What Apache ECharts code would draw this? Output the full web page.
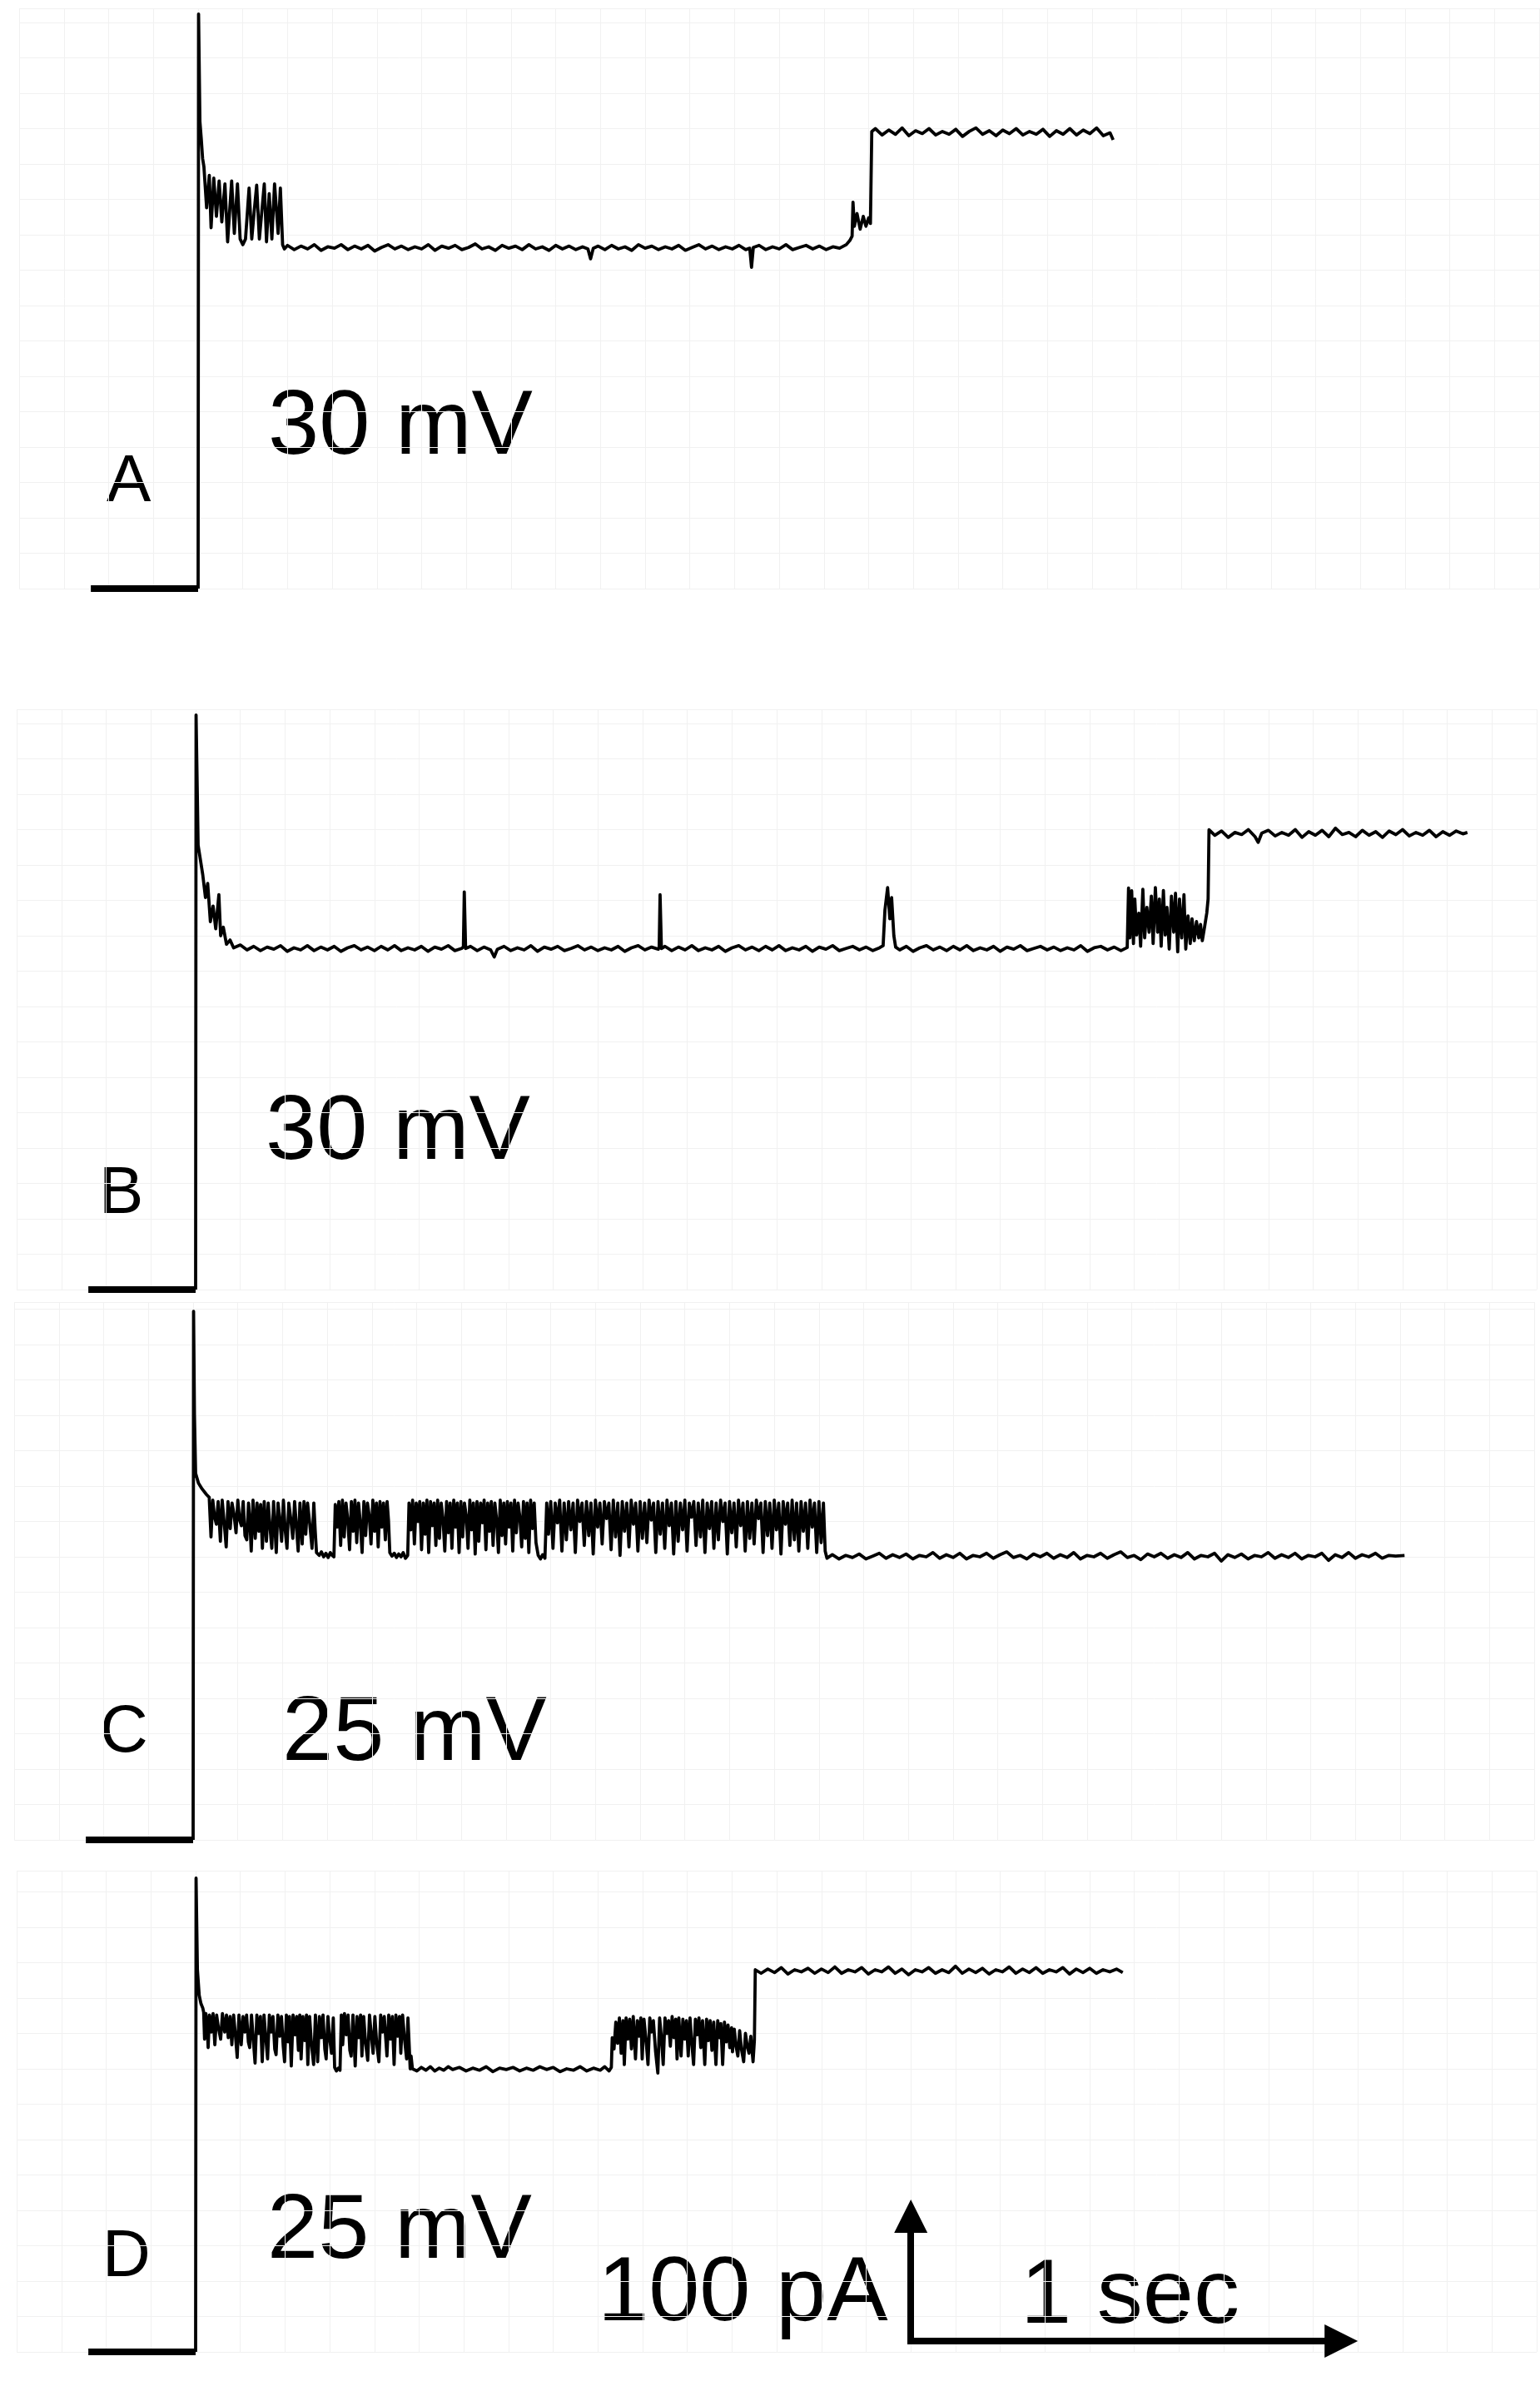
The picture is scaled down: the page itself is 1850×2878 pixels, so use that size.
<!DOCTYPE html>
<html>
<head>
<meta charset="utf-8">
<script src="https://cdn.jsdelivr.net/npm/echarts/dist/echarts.min.js"></script>
<style>
html,body{margin:0;padding:0;background:#ffffff;}
#chart{width:1850px;height:2878px;}
</style>
</head>
<body>
<div id="chart"></div>
<script>
// ---------------- DATA (time in s, current in pA) ----------------
const panelLabels = ['A', 'B', 'C', 'D'];
const voltageLabels = ['30 mV', '30 mV', '25 mV', '25 mV'];
const preStep = [[-0.24, 0], [0, 0]];
const scaleBarOrigin = [1.6, 7.6];
const scaleBarLength = [1, 100]; // 1 sec, 100 pA
const scaleBarLabels = ['100 pA', '1 sec'];

const traceA = [
[0,0],[0.001,406],[0.004,330],[0.007,318],[0.010,304],
[0.013,298],[0.019,269],[0.025,292],[0.029,255],[0.035,290],[0.041,263],[0.047,288],[0.053,259],[0.060,286],[0.066,245],
[0.075,288],[0.081,251],[0.088,286],[0.094,247],[0.100,243],[0.106,247],[0.114,283],[0.120,247],[0.125,265],[0.131,285],
[0.137,247],[0.148,286],[0.153,245],[0.159,279],[0.165,247],[0.171,286],[0.179,251],[0.184,283],[0.189,243],[0.193,240],
[0.200,242.5],[0.215,239.5],[0.230,242],[0.245,240],[0.260,243],[0.275,239],[0.290,241.5],[0.305,240.5],[0.320,243],[0.335,239.5],
[0.350,242],[0.365,240],[0.380,242.5],[0.395,238.5],[0.410,241],[0.425,243],[0.440,240],[0.455,242],[0.470,239.5],[0.485,241.5],
[0.500,240],[0.515,243],[0.530,239],[0.545,242],[0.560,240.5],[0.575,242.5],[0.590,239.5],[0.605,241],[0.620,243.5],[0.635,240],
[0.650,241.5],[0.665,239],[0.680,242.5],[0.695,240.5],[0.710,242],[0.725,239.5],[0.740,243],[0.755,240],[0.770,241.5],[0.785,239],
[0.800,242.5],[0.815,240],[0.830,242],[0.845,239.5],[0.860,241.5],[0.872,240],[0.878,233],[0.884,240.5],[0.895,242],[0.910,239.5],
[0.925,242.5],[0.940,240],[0.955,241.5],[0.970,239],[0.985,243],[1.000,240.5],[1.015,242],[1.030,239.5],[1.045,241.5],[1.060,240],
[1.075,242.5],[1.090,239],[1.105,241],[1.120,243],[1.135,240],[1.150,242],[1.165,239.5],[1.180,241.5],[1.195,240],[1.210,242.5],
[1.225,239.5],[1.234,240.5],[1.238,227],[1.242,241],[1.255,242.5],[1.270,239.5],[1.285,241.5],[1.300,240],[1.315,243],[1.330,239.5],
[1.345,241],[1.360,242.5],[1.375,240],[1.390,242],[1.405,239.5],[1.420,241.5],[1.435,240.5],[1.450,243],[1.458,246],[1.463,249],
[1.465,273],[1.468,256],[1.474,265],[1.481,254],[1.488,263],[1.494,256],[1.500,262],[1.504,258],[1.507,323],
[1.515,325],[1.530,320.5],[1.545,324],[1.560,321],[1.575,325.5],[1.590,320],[1.605,323.5],[1.620,321.5],[1.635,325],[1.650,320.5],
[1.665,323],[1.680,321],[1.695,324.5],[1.710,319.5],[1.725,323],[1.740,325.5],[1.755,321],[1.770,323.5],[1.785,320],[1.800,324],
[1.815,321.5],[1.830,325],[1.845,320.5],[1.860,323],[1.875,321],[1.890,324.5],[1.905,319.5],[1.920,323.5],[1.935,321],[1.950,325],
[1.965,320.5],[1.980,324],[1.995,321.5],[2.010,325.5],[2.025,320],[2.040,322],[2.047,317]
];

const traceB = [
[0,0],[0.001,406],[0.0056,314],[0.016,293],[0.022,277],[0.027,287],[0.033,260],[0.039,271],[0.045,255],[0.052,279],
[0.056,250],[0.062,256],[0.069,244],[0.077,247],[0.085,241.5],
[0.100,243.5],[0.115,240],[0.130,242.5],[0.145,239.5],[0.160,242],[0.175,240.5],[0.190,243],[0.205,239],[0.220,241.5],[0.235,240],
[0.250,243],[0.265,239.5],[0.280,242],[0.295,240],[0.310,242.5],[0.325,239],[0.340,241.5],[0.355,243],[0.370,240],[0.385,242],
[0.400,239.5],[0.415,242.5],[0.430,240],[0.445,243],[0.460,239.5],[0.475,241.5],[0.490,240],[0.505,242.5],[0.520,239],[0.535,242],
[0.550,240.5],[0.565,243],[0.580,239.5],[0.595,241],[0.599,242],[0.601,281],[0.604,241],[0.615,242.5],[0.630,239.5],[0.645,242],
[0.660,240],[0.668,235],[0.675,240.5],[0.690,242.5],[0.705,239.5],[0.720,241.5],[0.735,240],[0.750,243],[0.765,239],[0.780,242],
[0.795,240.5],[0.810,242.5],[0.825,239.5],[0.840,241],[0.855,243],[0.870,240],[0.885,242],[0.900,239.5],[0.915,241.5],[0.930,240],
[0.945,242.5],[0.960,239],[0.975,241.5],[0.990,243],[1.005,240],[1.020,242],[1.035,240.5],[1.037,242],[1.039,279],[1.042,241],
[1.050,242.5],[1.065,239.5],[1.080,242],[1.095,240],[1.110,243],[1.125,239.5],[1.140,241.5],[1.155,240],[1.170,242.5],[1.185,239],
[1.200,241.5],[1.215,243],[1.230,240],[1.245,242],[1.260,239.5],[1.275,242.5],[1.290,240],[1.305,243],[1.320,239.5],[1.335,241.5],
[1.350,240],[1.365,242.5],[1.380,239],[1.395,242],[1.410,240.5],[1.425,243],[1.440,239.5],[1.455,241],[1.470,242.5],[1.485,240],
[1.500,242],[1.515,239.5],[1.530,241.5],[1.538,243],[1.542,268],[1.548,284],[1.553,262],[1.557,277],[1.562,250],[1.566,242],
[1.575,240],[1.590,242.5],[1.605,239],[1.620,241.5],[1.635,243],[1.650,240],[1.665,242],[1.680,239.5],[1.695,242.5],[1.710,240],
[1.725,243],[1.740,239.5],[1.755,241.5],[1.770,240],[1.785,242.5],[1.800,239],[1.815,242],[1.830,240.5],[1.845,243],[1.860,239.5],
[1.875,241],[1.890,242.5],[1.905,240],[1.920,242],[1.935,239.5],[1.950,241.5],[1.965,240],[1.980,243],[1.995,239],[2.010,241.5],
[2.025,242.5],[2.040,240],[2.055,242],[2.070,239.5],[2.084,241.7],
[2.087,283.7],[2.090,248.5],[2.094,281.8],[2.098,244.5],[2.101,276],[2.105,250.5],[2.110,266],[2.114,242.6],[2.119,282.8],[2.123,248.5],
[2.128,270],[2.133,252.5],[2.138,278],[2.142,244.5],[2.147,284],[2.152,252.5],[2.156,276],[2.160,242.6],[2.165,282],[2.169,250.5],
[2.173,270],[2.178,240.6],[2.183,278],[2.188,252.5],[2.192,280],[2.197,238.6],[2.201,276],[2.206,248.5],[2.211,279],[2.215,240.6],
[2.220,264],[2.225,244.5],[2.229,262],[2.234,246.5],[2.239,260],[2.244,248.5],[2.248,258],[2.252,246.5],[2.257,256],[2.262,266],
[2.265,276],[2.267,324.9],
[2.280,321],[2.295,324],[2.310,319.5],[2.325,323],[2.340,321.5],[2.355,325],[2.370,320],[2.377,316],[2.385,322.5],[2.400,324.5],
[2.415,320.5],[2.430,323],[2.445,321],[2.460,325],[2.475,319.5],[2.490,323.5],[2.505,321],[2.520,324.5],[2.535,320],[2.550,326],
[2.565,321.5],[2.580,323],[2.595,320],[2.610,324.5],[2.625,321],[2.640,323.5],[2.655,319.5],[2.670,324],[2.685,321.5],[2.700,325],
[2.715,320.5],[2.730,323],[2.745,321],[2.760,324.5],[2.775,320],[2.790,323.5],[2.805,321],[2.820,324],[2.835,322],[2.845,323]
];

const traceC = [
[0,0],[0.001,373.5],[0.003,300],[0.0056,259],[0.012,252],[0.020,248],[0.030,244],[0.036,242],
[0.040,214],[0.044,240],[0.048,228],[0.052,223],[0.056,239],[0.061,211],[0.065,240],[0.069,226],[0.074,207],[0.078,239],
[0.083,220],[0.087,238],[0.091,231],[0.096,217],[0.100,240],[0.104,226],[0.108,222],[0.112,239],[0.116,215],[0.120,212],
[0.124,238],[0.127,225],[0.130,204],[0.134,240],[0.139,213],[0.143,238],[0.147,218],[0.151,237],[0.155,206],[0.159,239],
[0.164,211],[0.168,238],[0.172,221],[0.176,206],[0.180,239],[0.186,203],[0.190,238],[0.194,226],[0.198,211],[0.202,240],
[0.206,219],[0.210,206],[0.214,238],[0.218,228],[0.223,213],[0.227,239],[0.231,222],[0.235,204],[0.239,238],[0.244,209],
[0.248,239],[0.252,216],[0.256,238],[0.261,223],[0.266,206],[0.270,238],[0.273,219],
[0.276,203],[0.282,201],[0.287,203.5],[0.292,200],[0.297,202.5],[0.302,199.5],[0.307,203],[0.311,201],[0.315,200],
[0.318,237],[0.322,221],[0.326,239],[0.330,208],[0.334,240],[0.338,214],[0.342,238],[0.346,226],[0.350,205],[0.354,239],
[0.358,218],[0.362,240],[0.366,210],[0.370,238],[0.374,224],[0.378,203],[0.382,239],[0.386,215],[0.390,238],[0.394,229],
[0.398,209],[0.402,240],[0.406,218],[0.410,238],[0.414,207],[0.418,239],[0.422,221],[0.426,238],[0.430,212],[0.434,239],
[0.437,226],
[0.440,203],[0.445,200.5],[0.450,202.5],[0.455,199.5],[0.460,202],[0.465,200],[0.470,203],[0.475,199],[0.480,201],
[0.483,238],[0.487,219],[0.491,240],[0.495,209],[0.499,238],[0.503,225],[0.507,239],[0.511,205],[0.515,238],[0.519,216],
[0.523,240],[0.527,203],[0.531,239],[0.535,222],[0.539,238],[0.543,208],[0.547,240],[0.551,213],[0.555,238],[0.559,227],
[0.563,204],[0.567,239],[0.571,217],[0.575,238],[0.579,206],[0.583,240],[0.587,221],[0.591,238],[0.595,203],[0.599,239],
[0.603,214],[0.607,238],[0.611,229],[0.615,206],[0.619,240],[0.623,219],[0.627,238],[0.631,202],[0.635,239],[0.639,211],
[0.643,238],[0.647,224],[0.651,240],[0.655,205],[0.659,238],[0.663,218],[0.667,239],[0.671,208],[0.675,238],[0.679,226],
[0.683,203],[0.687,240],[0.691,215],[0.695,238],[0.699,209],[0.703,239],[0.707,221],[0.711,238],[0.715,204],[0.719,240],
[0.723,217],[0.727,238],[0.731,228],[0.735,207],[0.739,239],[0.743,213],[0.747,238],[0.751,203],[0.755,240],[0.759,220],
[0.763,238],[0.767,210],
[0.772,201],[0.777,198.5],[0.782,201.5],[0.787,199],
[0.791,238],[0.795,216],[0.800,239],[0.805,206],[0.810,238],[0.815,224],[0.820,240],[0.825,204],[0.830,238],[0.835,212],
[0.840,239],[0.845,219],[0.850,238],[0.855,203],[0.860,240],[0.865,225],[0.870,238],[0.875,208],[0.880,239],[0.885,215],
[0.890,238],[0.895,202],[0.900,240],[0.905,221],[0.910,238],[0.915,209],[0.920,239],[0.925,227],[0.930,238],[0.935,205],
[0.940,240],[0.945,214],[0.950,238],[0.955,201],[0.960,239],[0.965,218],[0.970,238],[0.975,207],[0.980,240],[0.985,223],
[0.990,238],[0.995,204],[1.000,239],[1.005,213],[1.010,238],[1.015,210],[1.020,240],[1.025,226],[1.030,238],[1.035,203],
[1.040,239],[1.045,216],[1.050,238],[1.055,206],[1.060,240],[1.065,222],[1.070,238],[1.075,202],[1.080,239],[1.085,211],
[1.090,238],[1.095,219],[1.100,240],[1.105,204],[1.110,238],[1.115,228],[1.120,239],[1.125,208],[1.130,238],[1.135,214],
[1.140,240],[1.145,203],[1.150,238],[1.155,220],[1.160,239],[1.165,206],[1.170,238],[1.175,212],[1.180,240],[1.185,225],
[1.190,238],[1.195,202],[1.200,239],[1.205,217],[1.210,238],[1.215,207],[1.220,240],[1.225,222],[1.230,238],[1.235,204],
[1.240,239],[1.245,213],[1.250,238],[1.255,209],[1.260,240],[1.265,227],[1.270,238],[1.275,203],[1.280,239],[1.285,215],
[1.290,238],[1.295,206],[1.300,240],[1.305,219],[1.310,238],[1.315,202],[1.320,239],[1.325,223],[1.330,238],[1.335,208],
[1.340,240],[1.345,212],[1.350,238],[1.355,204],[1.360,239],[1.365,218],[1.370,238],[1.375,206],[1.380,240],[1.385,221],
[1.390,238],[1.395,203],[1.400,239],[1.405,210],[1.410,238],[1.414,204],
[1.418,199],[1.430,201.5],[1.445,198.5],[1.460,201],[1.475,199.5],[1.490,202],[1.505,198.5],[1.520,200.5],[1.535,202.5],[1.550,199],
[1.565,201.5],[1.580,199.5],[1.595,202],[1.610,198.5],[1.625,201],[1.640,200],[1.655,203],[1.670,199],[1.685,201.5],[1.700,199.5],
[1.715,202.5],[1.730,198.5],[1.745,201],[1.760,200],[1.775,202.5],[1.790,199],[1.805,201.5],[1.820,203.5],[1.835,199.5],[1.850,201],
[1.865,198.5],[1.880,202],[1.895,200],[1.910,202.5],[1.925,199],[1.940,201.5],[1.955,199.5],[1.970,203],[1.985,198.5],[2.000,201],
[2.015,200],[2.030,202.5],[2.045,199],[2.060,201.5],[2.075,203.5],[2.090,199.5],[2.105,201],[2.120,198],[2.135,202],[2.150,200],
[2.165,202.5],[2.180,199],[2.195,201.5],[2.210,199.5],[2.225,203],[2.240,198.5],[2.255,201],[2.270,200],[2.285,202.5],[2.300,197],
[2.315,201.5],[2.330,199.5],[2.345,202],[2.360,198.5],[2.375,201],[2.390,200],[2.405,203],[2.420,199],[2.435,201.5],[2.450,199.5],
[2.465,202.5],[2.480,198.5],[2.495,201],[2.510,200],[2.525,202.5],[2.540,197.5],[2.555,201.5],[2.570,199.5],[2.585,203],[2.600,199],
[2.615,201.5],[2.630,200],[2.645,202.5],[2.660,199],[2.675,201],[2.690,200.5],[2.710,201]
];

const traceD = [
[0,0],[0.001,334.7],[0.004,270],[0.008,252],[0.012,246],[0.016,243],
[0.018,240],[0.020,221],[0.023,239],[0.026,230],[0.028,215],[0.031,238],[0.035,226],[0.039,239],[0.043,217],[0.047,238],
[0.051,229],[0.056,221],[0.060,239],[0.065,226],[0.069,238],[0.073,222],[0.077,237],[0.081,217],[0.085,238],[0.089,224],
[0.093,208],[0.097,238],[0.102,217],[0.106,237],[0.110,226],[0.114,238],[0.118,219],[0.121,215],[0.125,238],[0.129,221],
[0.133,204],[0.137,238],[0.141,225],[0.145,237],[0.149,205],[0.153,238],[0.157,222],[0.161,207],[0.165,238],[0.169,226],
[0.173,237],[0.177,214],[0.180,210],[0.184,238],[0.188,223],[0.192,237],[0.196,216],[0.199,205],[0.203,238],[0.207,219],
[0.210,237],[0.214,202],[0.218,238],[0.222,224],[0.226,237],[0.230,213],[0.233,238],[0.236,207],[0.240,237],[0.244,220],
[0.248,238],[0.251,203],[0.255,237],[0.259,218],[0.264,203],[0.268,238],[0.273,205],[0.277,237],[0.281,222],[0.285,238],
[0.289,214],[0.292,207],[0.296,237],[0.300,221],[0.304,211],[0.308,236],
[0.311,201],[0.315,198.5],[0.319,200.5],[0.323,199],
[0.326,238],[0.329,217],[0.333,239],[0.337,224],[0.341,238],[0.345,213],[0.348,209],[0.352,238],[0.357,202],[0.361,237],
[0.365,222],[0.369,238],[0.372,209],[0.376,237],[0.380,219],[0.385,206],[0.389,238],[0.393,224],[0.397,211],[0.401,237],
[0.405,218],[0.410,205],[0.414,238],[0.418,226],[0.422,237],[0.428,209],[0.432,238],[0.436,221],[0.440,237],[0.444,203],
[0.448,238],[0.452,223],[0.456,237],[0.459,211],[0.463,238],[0.468,219],[0.472,207],[0.475,236],[0.478,215],
[0.480,200],[0.482,209],[0.485,200],[0.495,198.5],[0.505,201],[0.515,199],[0.525,201.5],[0.535,198.5],[0.545,200.5],[0.555,199],
[0.565,201.5],[0.575,199.5],[0.590,201],[0.605,198.5],[0.620,200.5],[0.635,199],[0.650,201.5],[0.665,198],[0.680,200.5],[0.695,199.5],
[0.710,201],[0.725,198.5],[0.740,200.5],[0.755,199],[0.770,201.5],[0.785,199.5],[0.800,201],[0.815,198],[0.830,200],[0.845,199],
[0.860,201.5],[0.875,198.5],[0.890,200.5],[0.905,199],[0.915,201.5],[0.925,198.5],[0.930,201],
[0.932,222],[0.936,214],[0.940,233],[0.944,218],[0.948,236],[0.952,211],[0.956,234],[0.959,203],[0.963,236],[0.967,221],
[0.971,235],[0.975,214],[0.979,237],[0.984,207],[0.988,234],[0.992,223],[0.996,236],[0.999,207],[1.003,235],[1.008,219],
[1.012,203],[1.016,236],[1.020,226],[1.024,234],[1.029,212],[1.034,197],[1.038,236],[1.042,222],[1.046,203],[1.050,236],
[1.054,225],[1.058,234],[1.062,216],[1.066,237],[1.070,222],[1.074,235],[1.077,207],[1.081,236],[1.086,209],[1.090,235],
[1.094,221],[1.098,234],[1.102,209],[1.106,236],[1.110,218],[1.114,203],[1.118,235],[1.122,224],[1.126,236],[1.130,215],
[1.134,234],[1.139,203],[1.143,235],[1.147,220],[1.151,234],[1.155,213],[1.159,233],[1.164,203],[1.168,234],[1.172,222],
[1.175,232],[1.179,203],[1.183,233],[1.187,219],[1.191,231],[1.195,215],[1.199,229],[1.201,212],[1.205,228],[1.209,216],
[1.213,209],[1.217,227],[1.221,214],[1.226,205],[1.230,225],[1.234,216],[1.238,211],[1.242,223],[1.247,205],[1.250,220],
[1.252,270],
[1.255,271],[1.265,267.5],[1.280,270.5],[1.295,268],[1.310,271.5],[1.325,267],[1.340,270],[1.355,268.5],[1.370,271],[1.385,267.5],
[1.400,270.5],[1.415,268],[1.430,272],[1.445,267.5],[1.460,270],[1.475,268.5],[1.490,271.5],[1.505,267],[1.520,270],[1.535,268.5],
[1.550,272],[1.565,267.5],[1.580,270.5],[1.595,266.5],[1.610,270],[1.625,268.5],[1.640,271.5],[1.655,267.5],[1.670,270],[1.685,268],
[1.700,272.5],[1.715,267.5],[1.730,270.5],[1.745,268],[1.760,271],[1.775,267],[1.790,270],[1.805,268.5],[1.820,272],[1.835,267.5],
[1.850,270.5],[1.865,268],[1.880,271.5],[1.895,267.5],[1.910,270],[1.925,268.5],[1.940,271.5],[1.955,267],[1.970,270.5],[1.985,268],
[2.000,271],[2.015,267.5],[2.030,270],[2.045,268.5],[2.060,270.5],[2.074,268]
];

const traces = [traceA, traceB, traceC, traceD];

// ---------------- LAYOUT ----------------
const PX_PER_S = 537;
const PX_PER_PA = 1.7;
const X_MIN = -0.4, X_MAX = 3.0;
const panelLayout = [
  { axisX: 238, stubY: 707,  yMax: 410, letter: [128, 580], volt: [322, 515] },
  { axisX: 235, stubY: 1549, yMax: 410, letter: [119, 1435], volt: [319, 1362] },
  { axisX: 232, stubY: 2210, yMax: 380, letter: [120, 2082], volt: [339, 2084] },
  { axisX: 235, stubY: 2825, yMax: 340, letter: [123, 2712], volt: [321, 2682] }
];
const FONT = '"Liberation Sans", Arial, Helvetica, sans-serif';
const gridColor = '#f1f1f1';

const grids = [], xAxes = [], yAxes = [], series = [], graphics = [];
panelLayout.forEach((p, i) => {
  const h = p.yMax * PX_PER_PA;
  grids.push({
    left: p.axisX + X_MIN * PX_PER_S,
    width: (X_MAX - X_MIN) * PX_PER_S,
    top: p.stubY - h,
    height: h,
    containLabel: false
  });
  xAxes.push({
    type: 'value', gridIndex: i, min: X_MIN, max: X_MAX, interval: 0.1,
    axisLine: { show: false }, axisTick: { show: false }, axisLabel: { show: false },
    splitLine: { show: true, lineStyle: { color: gridColor, width: 1 } }
  });
  yAxes.push({
    type: 'value', gridIndex: i, min: 0, max: p.yMax, interval: 25,
    axisLine: { show: false }, axisTick: { show: false }, axisLabel: { show: false },
    splitLine: { show: true, lineStyle: { color: gridColor, width: 1 } }
  });
  series.push({
    type: 'line', xAxisIndex: i, yAxisIndex: i, data: preStep,
    showSymbol: false, clip: false, silent: true, animation: false,
    lineStyle: { color: '#000', width: 8, cap: 'butt' }, z: 3
  });
  const s = {
    type: 'line', xAxisIndex: i, yAxisIndex: i, data: traces[i],
    showSymbol: false, clip: false, silent: true, animation: false, sampling: 'none',
    lineStyle: { color: '#000', width: 3.8, join: 'round' }, z: 4
  };
  if (i === 3) {
    const o = scaleBarOrigin;
    const headPA = 20 / PX_PER_PA, headS = 20 / PX_PER_S; // arrowhead centre inset
    s.markLine = {
      silent: true, animation: false,
      symbol: ['none', 'triangle'], symbolSize: 40,
      label: { show: false },
      lineStyle: { color: '#000', width: 8, type: 'solid', cap: 'square', opacity: 1 },
      itemStyle: { color: '#000' },
      emphasis: { disabled: true },
      data: [
        [{ coord: [o[0], o[1]] }, { coord: [o[0], o[1] + scaleBarLength[1] - headPA] }],
        [{ coord: [o[0], o[1]] }, { coord: [o[0] + scaleBarLength[0] - headS, o[1]] }]
      ]
    };
  }
  series.push(s);
  graphics.push({
    type: 'text', x: p.letter[0], y: p.letter[1], silent: true,
    style: { text: panelLabels[i], font: 'normal 80px ' + FONT, fill: '#000',
             textAlign: 'left', textVerticalAlign: 'middle', align: 'left', verticalAlign: 'middle' }
  });
  graphics.push({
    type: 'text', x: p.volt[0], y: p.volt[1], silent: true,
    style: { text: voltageLabels[i], font: 'normal 110px ' + FONT, fill: '#000',
             textAlign: 'left', textVerticalAlign: 'middle', align: 'left', verticalAlign: 'middle' }
  });
});
graphics.push({
  type: 'text', x: 718, y: 2757, silent: true,
  style: { text: scaleBarLabels[0], font: 'normal 110px ' + FONT, fill: '#000',
           textAlign: 'left', textVerticalAlign: 'middle', align: 'left', verticalAlign: 'middle' }
});
graphics.push({
  type: 'text', x: 1226, y: 2760, silent: true,
  style: { text: scaleBarLabels[1], font: 'normal 110px ' + FONT, fill: '#000',
           textAlign: 'left', textVerticalAlign: 'middle', align: 'left', verticalAlign: 'middle' }
});

const chart = echarts.init(document.getElementById('chart'), null, { renderer: 'canvas', width: 1850, height: 2878 });
chart.setOption({
  backgroundColor: '#ffffff',
  animation: false,
  grid: grids,
  xAxis: xAxes,
  yAxis: yAxes,
  series: series,
  graphic: graphics
});
</script>
</body>
</html>
